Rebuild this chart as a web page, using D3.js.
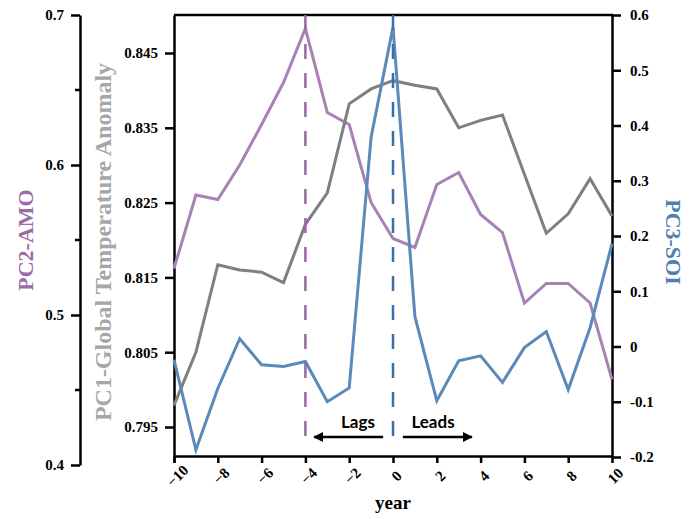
<!doctype html>
<html>
<head>
<meta charset="utf-8">
<title>PC lag correlation</title>
<script src="https://cdn.jsdelivr.net/npm/d3@7"></script>
<style>
  body { margin: 0; background: #fff; }
  .tick text { font-family: "Liberation Serif", serif; font-weight: bold; font-size: 15px; fill: #000; }
  .axis path, .axis line { stroke: #000; stroke-width: 2.5px; }
</style>
</head>
<body>
<svg id="chart" width="689" height="519"></svg>
<script>
// lag in years
var years = [-10, -9, -8, -7, -6, -5, -4, -3, -2, -1, 0, 1, 2, 3, 4, 5, 6, 7, 8, 9, 10];
// PC2 - AMO (left outer axis)
var amo = [0.531, 0.580, 0.577, 0.600, 0.627, 0.655, 0.691, 0.635, 0.627, 0.575, 0.551,
           0.545, 0.587, 0.595, 0.567, 0.555, 0.508, 0.521, 0.521, 0.508, 0.457];
// PC1 - global temperature anomaly (left inner axis)
var gta = [0.7979, 0.8050, 0.8167, 0.8160, 0.8157, 0.8143, 0.8221, 0.8263, 0.8382, 0.8402, 0.8413,
           0.8407, 0.8402, 0.8350, 0.8360, 0.8367, 0.8288, 0.8209, 0.8235, 0.8282, 0.8232];
// PC3 - SOI (right axis)
var soi = [-0.024, -0.187, -0.076, 0.014, -0.033, -0.036, -0.027, -0.100, -0.075, 0.379, 0.578,
           0.054, -0.098, -0.026, -0.017, -0.065, -0.002, 0.027, -0.078, 0.034, 0.186];

var xTicks = [-10, -8, -6, -4, -2, 0, 2, 4, 6, 8, 10];
var amoTicks = [0.4, 0.5, 0.6, 0.7];
var amoMinor = [0.45, 0.55, 0.65];
var gtaTicks = [0.795, 0.805, 0.815, 0.825, 0.835, 0.845];
var soiTicks = [-0.2, -0.1, 0, 0.1, 0.2, 0.3, 0.4, 0.5, 0.6];
var markers = [{ year: -4, color: '#9868a5' }, { year: 0, color: '#3b6fa5' }];

var purple = '#a882b4', grey = '#7f7f7f', blue = '#5a8aba';

var svg = d3.select('#chart');
var pLeft = 174, pRight = 612, pTop = 15, pBottom = 456;

var x = d3.scaleLinear().domain([-10, 10]).range([pLeft, pRight]);
var yAmo = d3.scaleLinear().domain([0.4, 0.7]).range([465, pTop]);
var g0 = d3.scaleLinear().domain([0.795, 0.845]).range([427, 53]);
var yGta = d3.scaleLinear().domain([g0.invert(pBottom + 6), g0.invert(pTop)]).range([pBottom + 6, pTop]);
var ySoi = d3.scaleLinear().domain([-0.2, 0.6]).range([457, pTop]);

function fmt(d) { return d === 0 ? '0' : String(+d.toFixed(3)); }

// box top line
svg.append('line')
    .attr('x1', pLeft).attr('x2', pRight + 1)
    .attr('y1', pTop).attr('y2', pTop)
    .attr('stroke', '#000').attr('stroke-width', 2.5);

// outer left axis (AMO)
var aAmo = svg.append('g').attr('class', 'axis').attr('transform', 'translate(80,0)')
    .call(d3.axisLeft(yAmo).tickValues(amoTicks).tickSize(9).tickPadding(7).tickSizeOuter(0).tickFormat(fmt));
aAmo.selectAll('.minor').data(amoMinor).enter().append('line')
    .attr('class', 'minor')
    .attr('x1', -5).attr('x2', 0)
    .attr('y1', function(d) { return yAmo(d); }).attr('y2', function(d) { return yAmo(d); })
    .attr('stroke', '#000').attr('stroke-width', 2.5);

// inner left axis (global temp)
svg.append('g').attr('class', 'axis').attr('transform', 'translate(' + pLeft + ',0)')
    .call(d3.axisLeft(yGta).tickValues(gtaTicks).tickSize(9).tickPadding(7).tickSizeOuter(0).tickFormat(fmt));

// right axis (SOI)
svg.append('g').attr('class', 'axis').attr('transform', 'translate(' + pRight + ',0)')
    .call(d3.axisRight(ySoi).tickValues(soiTicks).tickSize(9).tickPadding(9).tickSizeOuter(0).tickFormat(fmt));

// x axis
var ax = svg.append('g').attr('class', 'axis').attr('transform', 'translate(0,' + pBottom + ')')
    .call(d3.axisBottom(x).tickValues(xTicks).tickSize(7).tickSizeOuter(0));
ax.selectAll('.tick text')
    .attr('text-anchor', 'middle')
    .attr('dy', null)
    .attr('y', 0)
    .attr('transform', 'translate(3,20) rotate(-45)')
    .attr('dominant-baseline', 'central');

// lines
var series = [
    { values: amo, y: yAmo, color: purple },
    { values: gta, y: yGta, color: grey },
    { values: soi, y: ySoi, color: blue }
];
series.forEach(function(s) {
    var line = d3.line()
        .x(function(d, i) { return x(years[i]); })
        .y(function(d) { return s.y(d); });
    svg.append('path')
        .datum(s.values)
        .attr('d', line)
        .attr('fill', 'none')
        .attr('stroke', s.color)
        .attr('stroke-width', 3)
        .attr('stroke-linejoin', 'miter');
});

// dashed markers
svg.selectAll('.marker').data(markers).enter().append('line')
    .attr('class', 'marker')
    .attr('x1', function(d) { return x(d.year); }).attr('x2', function(d) { return x(d.year); })
    .attr('y1', pTop).attr('y2', 448)
    .attr('stroke', function(d) { return d.color; })
    .attr('stroke-width', 2.5)
    .attr('stroke-dasharray', '15,14');

// lags / leads arrows
var defs = svg.append('defs');
defs.append('marker').attr('id', 'arr')
    .attr('viewBox', '0 0 10 10').attr('refX', 9).attr('refY', 5)
    .attr('markerWidth', 4).attr('markerHeight', 4).attr('orient', 'auto')
    .append('path').attr('d', 'M0,0L10,5L0,10Z').attr('fill', '#000');
svg.append('line').attr('x1', x(-0.45)).attr('x2', x(-3.6)).attr('y1', 437).attr('y2', 437)
    .attr('stroke', '#000').attr('stroke-width', 2.5).attr('marker-end', 'url(#arr)');
svg.append('line').attr('x1', x(0.45)).attr('x2', x(3.6)).attr('y1', 437).attr('y2', 437)
    .attr('stroke', '#000').attr('stroke-width', 2.5).attr('marker-end', 'url(#arr)');
svg.append('text').attr('x', 358).attr('y', 428).attr('text-anchor', 'middle')
    .style('font-family', 'Lato, sans-serif').style('font-weight', 'bold').style('font-size', '17px')
    .text('Lags');
svg.append('text').attr('x', 433).attr('y', 428).attr('text-anchor', 'middle')
    .style('font-family', 'Lato, sans-serif').style('font-weight', 'bold').style('font-size', '17px')
    .text('Leads');

// axis titles
function title(txt, tx, ty, rot, color, size) {
    svg.append('text')
        .attr('transform', 'translate(' + tx + ',' + ty + ') rotate(' + rot + ')')
        .attr('text-anchor', 'middle')
        .attr('dominant-baseline', 'central')
        .style('font-family', '"Liberation Serif", serif')
        .style('font-weight', 'bold')
        .style('font-size', size + 'px')
        .style('fill', color)
        .text(txt);
}
title('PC2-AMO', 25, 240, -90, '#9b6ba8', 22);
title('PC1-Global Temperature Anomaly', 103, 242, -90, '#a6a6a6', 24);
title('PC3-SOI', 673, 242, 90, '#4f7fb1', 22);

svg.append('text').attr('x', 393).attr('y', 509).attr('text-anchor', 'middle')
    .style('font-family', '"Liberation Serif", serif').style('font-weight', 'bold').style('font-size', '19px')
    .text('year');
</script>
</body>
</html>
